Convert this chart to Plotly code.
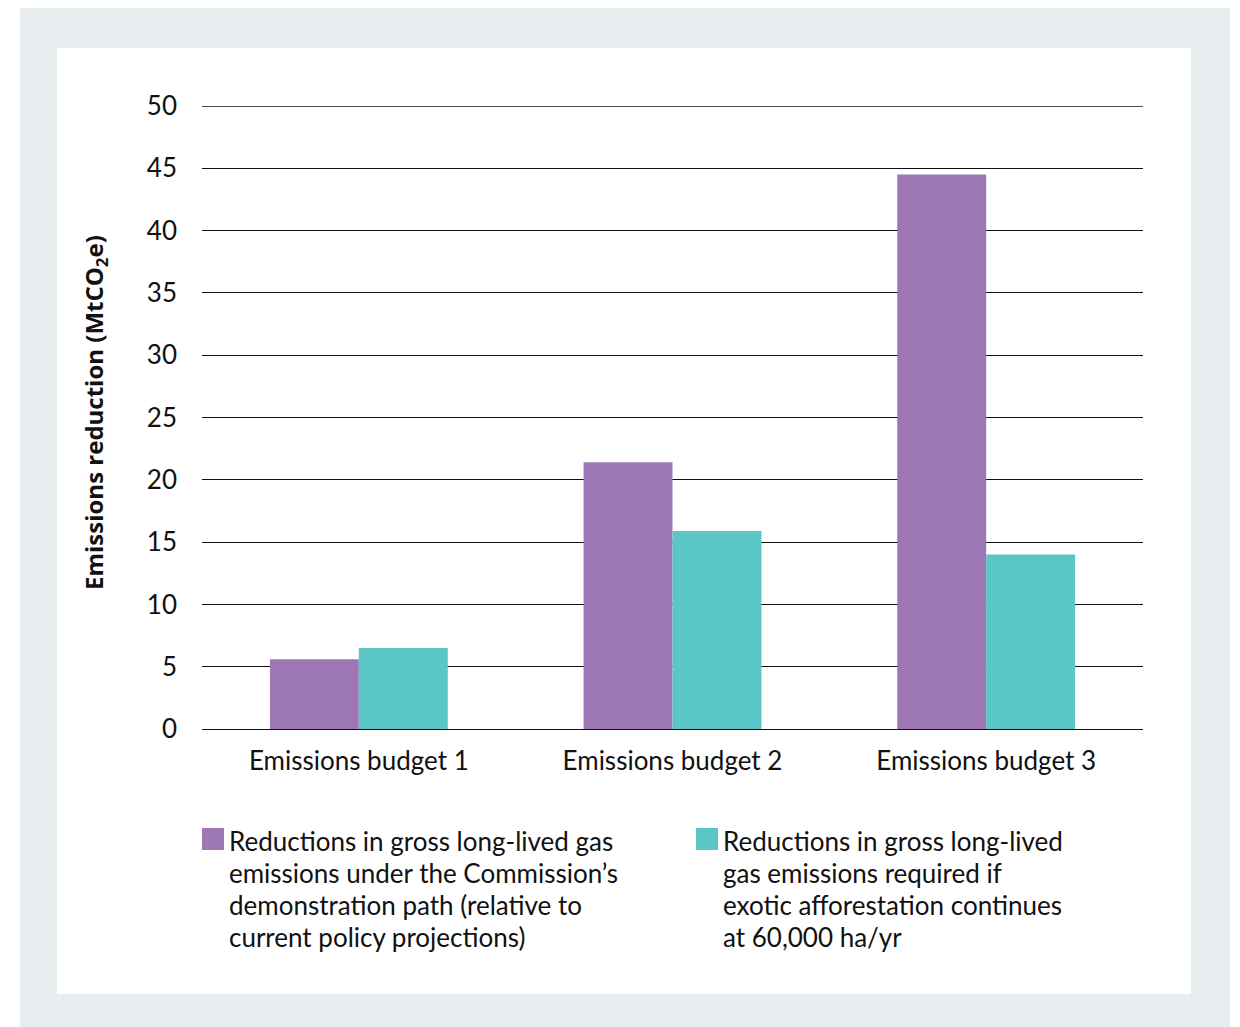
import plotly.graph_objects as go

categories = ["Emissions budget 1", "Emissions budget 2", "Emissions budget 3"]
demo_path = [5.6, 21.4, 44.5]
afforestation = [6.5, 15.9, 14.0]
series_lines = [
    ["Reductions in gross long-lived gas", "emissions under the Commission’s",
     "demonstration path (relative to", "current policy projections)"],
    ["Reductions in gross long-lived", "gas emissions required if",
     "exotic afforestation continues", "at 60,000 ha/yr"],
]
y_ticks = [0, 5, 10, 15, 20, 25, 30, 35, 40, 45, 50]
colors = ["#9e78b4", "#5ac6c6"]

FONT = "Lato"
W, H = 1240, 1027
L, R, T, B = 202, 97, 106, 298
pw, ph = W - L - R, H - T - B

def px(x):
    return (x - L) / pw

def py(y):
    return (H - B - y) / ph

fig = go.Figure()
fig.add_trace(go.Bar(x=categories, y=demo_path, name=" ".join(series_lines[0]),
                     marker=dict(color=colors[0], line=dict(width=0)), showlegend=False))
fig.add_trace(go.Bar(x=categories, y=afforestation, name=" ".join(series_lines[1]),
                     marker=dict(color=colors[1], line=dict(width=0)), showlegend=False))

shapes = [
    dict(type="rect", xref="paper", yref="paper", x0=px(20), x1=px(1230), y0=py(1027), y1=py(8),
         fillcolor="#e7ecef", line=dict(width=0), layer="below"),
    dict(type="rect", xref="paper", yref="paper", x0=px(57), x1=px(1191), y0=py(994), y1=py(48),
         fillcolor="white", line=dict(width=0), layer="below"),
    # top gridline at the axis maximum
    dict(type="line", xref="paper", yref="y", x0=0, x1=1, y0=max(y_ticks), y1=max(y_ticks),
         line=dict(color="#111", width=1.3), layer="below"),
]
annotations = [
    dict(text="<b>Emissions reduction (MtCO<sub>2</sub>e)</b>", textangle=-90, xref="paper", yref="paper",
         x=px(95), y=py(413), xanchor="center", yanchor="middle", showarrow=False,
         font=dict(family="Open Sans", size=24, color="#111")),
]
legend_x = [202, 696]
for i, lines in enumerate(series_lines):
    shapes.append(dict(type="rect", xref="paper", yref="paper",
                       x0=px(legend_x[i]), x1=px(legend_x[i] + 22), y0=py(850), y1=py(828),
                       fillcolor=colors[i], line=dict(width=0)))
    for j, line in enumerate(lines):
        annotations.append(dict(text=line, xref="paper", yref="paper", x=px(legend_x[i] + 25),
                                y=py(841 + 32 * j), xanchor="left", yanchor="middle", align="left",
                                showarrow=False, font=dict(family=FONT, size=26, color="#111")))

fig.update_layout(
    width=W, height=H,
    margin=dict(l=L, r=R, t=T, b=B),
    paper_bgcolor="white", plot_bgcolor="rgba(0,0,0,0)",
    barmode="group", bargap=0.433, bargroupgap=0,
    font=dict(family=FONT, size=26, color="#111"),
    shapes=shapes, annotations=annotations,
    xaxis=dict(showgrid=False, showline=False, ticks="", ticklabelstandoff=14,
               tickfont=dict(family=FONT, size=26, color="#111")),
    yaxis=dict(range=[0, 50], tickvals=y_ticks, showgrid=True, gridcolor="#111", gridwidth=1,
               zeroline=True, zerolinecolor="#111", zerolinewidth=1, showline=False, ticks="",
               ticklabelstandoff=24, tickfont=dict(family=FONT, size=26, color="#111")),
)

fig.write_html("out.html")
